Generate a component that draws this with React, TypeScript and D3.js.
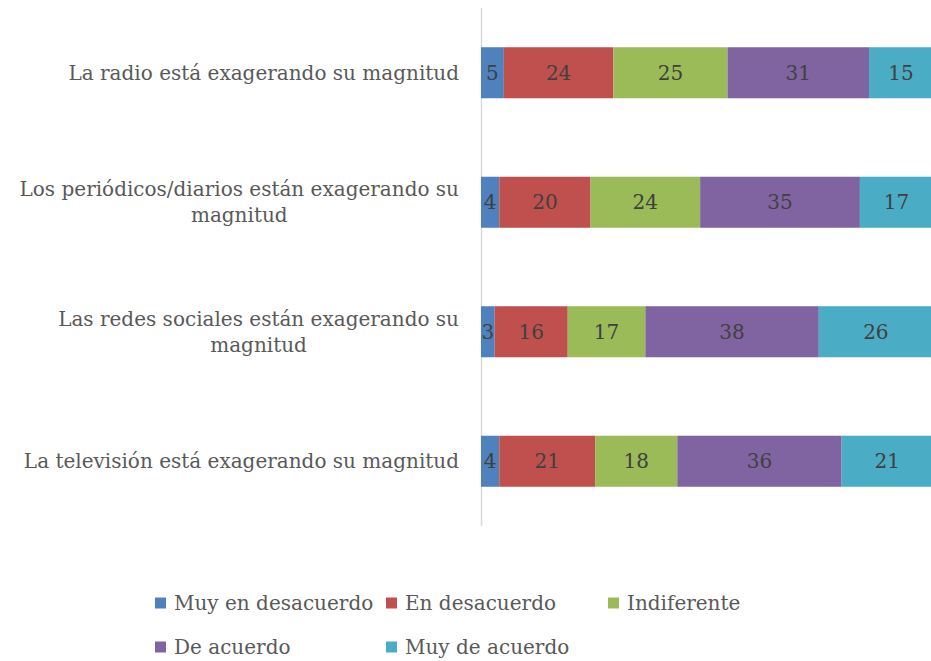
import { useEffect, useRef } from "react";
import * as d3 from "d3";

const categories = [
  "La radio está exagerando su magnitud",
  "Los periódicos/diarios están exagerando su magnitud",
  "Las redes sociales están exagerando su magnitud",
  "La televisión está exagerando su magnitud",
];
const seriesNames = [
  "Muy en desacuerdo",
  "En desacuerdo",
  "Indiferente",
  "De acuerdo",
  "Muy de acuerdo",
];
const muyDesacuerdo = [5, 4, 3, 4];
const desacuerdo = [24, 20, 16, 21];
const indiferente = [25, 24, 17, 18];
const deAcuerdo = [31, 35, 38, 36];
const muyDeAcuerdo = [15, 17, 26, 21];
const colors = ["#4F81BD", "#C0504D", "#9BBB59", "#8064A2", "#4BACC6"];

const FONT = "'DejaVu Serif', Cambria, serif";

function App() {
  const ref = useRef<SVGSVGElement>(null);

  useEffect(() => {
    const svg = d3.select(ref.current);
    svg.selectAll("*").remove();

    const width = 931;
    const height = 661;
    const values = [muyDesacuerdo, desacuerdo, indiferente, deAcuerdo, muyDeAcuerdo];

    // rows for the stack
    const rows = categories.map((c, i) => {
      const r: any = { cat: c };
      seriesNames.forEach((s, j) => (r[s] = values[j][i]));
      return r;
    });
    const stacked = d3.stack().keys(seriesNames)(rows);

    const x = d3.scaleLinear().domain([0, 100]).range([481, 937.5]);
    const y = d3
      .scaleBand()
      .domain(categories)
      .range([8, 526])
      .paddingInner(0.606)
      .paddingOuter(0.303);

    // Axis line
    svg
      .append("line")
      .attr("x1", 481.5)
      .attr("x2", 481.5)
      .attr("y1", 8)
      .attr("y2", 526)
      .attr("stroke", "#d9d9d9")
      .attr("stroke-width", 1.5);

    // Bars
    const groups = svg
      .append("g")
      .selectAll("g")
      .data(stacked)
      .enter()
      .append("g")
      .attr("fill", (d, i) => colors[i]);

    groups
      .selectAll("rect")
      .data((d) => d)
      .enter()
      .append("rect")
      .attr("x", (d) => x(d[0]))
      .attr("y", (d: any) => y(d.data.cat)!)
      .attr("width", (d) => x(d[1]) - x(d[0]))
      .attr("height", y.bandwidth());

    // Value labels
    groups
      .selectAll("text")
      .data((d) => d)
      .enter()
      .append("text")
      .attr("x", (d) => (x(d[0]) + x(Math.min(d[1], 99))) / 2)
      .attr("y", (d: any) => y(d.data.cat)! + y.bandwidth() / 2)
      .attr("dy", "0.35em")
      .attr("text-anchor", "middle")
      .attr("fill", "#404040")
      .attr("font-family", FONT)
      .attr("font-size", 20)
      .text((d) => d[1] - d[0]);

    // Category labels (wrapped, lines centered in block, block right aligned)
    const labelRight = 459;
    const maxW = 450;
    categories.forEach((c) => {
      const g = svg.append("g");
      const words = c.split(" ");
      const lines: string[] = [];
      let line = "";
      const probe = g
        .append("text")
        .attr("font-family", FONT)
        .attr("font-size", 20);
      words.forEach((w) => {
        const test = line ? line + " " + w : w;
        probe.text(test);
        if ((probe.node() as SVGTextElement).getComputedTextLength() > maxW && line) {
          lines.push(line);
          line = w;
        } else line = test;
      });
      lines.push(line);
      const widths = lines.map((l) => {
        probe.text(l);
        return (probe.node() as SVGTextElement).getComputedTextLength();
      });
      probe.remove();
      const blockW = d3.max(widths)!;
      const cx = labelRight - blockW / 2;
      const lh = 26;
      const cy = y(c)! + y.bandwidth() / 2;
      lines.forEach((l, i) => {
        g.append("text")
          .attr("x", cx)
          .attr("y", cy + (i - (lines.length - 1) / 2) * lh)
          .attr("dy", "0.35em")
          .attr("text-anchor", "middle")
          .attr("fill", "#595959")
          .attr("font-family", FONT)
          .attr("font-size", 20)
          .text(l);
      });
    });

    // Legend
    const legendCols = [160, 391, 613];
    const legendRows = [603, 647];
    const legend = svg
      .append("g")
      .selectAll("g")
      .data(seriesNames)
      .enter()
      .append("g")
      .attr(
        "transform",
        (d, i) => `translate(${legendCols[i % 3]}, ${legendRows[Math.floor(i / 3)]})`
      );
    legend
      .append("rect")
      .attr("x", -5)
      .attr("y", -5.5)
      .attr("width", 11)
      .attr("height", 11)
      .attr("fill", (d, i) => colors[i]);
    legend
      .append("text")
      .attr("x", 14)
      .attr("dy", "0.35em")
      .attr("fill", "#595959")
      .attr("font-family", FONT)
      .attr("font-size", 20)
      .text((d) => d);

    svg.attr("viewBox", [0, 0, width, height]);
  }, []);

  return (
    <svg
      ref={ref}
      width={931}
      height={661}
      style={{ position: "absolute", left: 0, top: 0, background: "#fff" }}
    />
  );
}

export default App;
